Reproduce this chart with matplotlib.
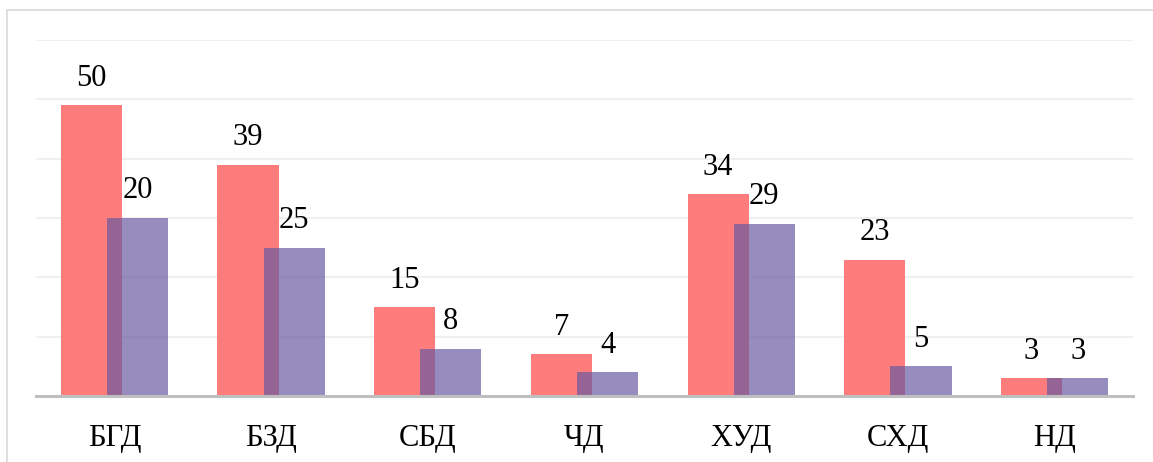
import matplotlib.pyplot as plt
import numpy as np
from matplotlib.patches import Rectangle

categories = ["БГД", "БЗД", "СБД", "ЧД", "ХУД", "СХД", "НД"]
red_values = [49, 39, 15, 7, 34, 23, 3]
red_labels = ["50", "39", "15", "7", "34", "23", "3"]
blue_values = [30, 25, 8, 4, 29, 5, 3]
blue_labels = ["20", "25", "8", "4", "29", "5", "3"]

plt.rcParams['font.family'] = ['Liberation Serif', 'DejaVu Serif']

fig = plt.figure(figsize=(11.53, 4.62), dpi=100)
# outer chart frame (cropped on right and bottom)
fig.patches.append(Rectangle((7 / 1153, -0.1), 1.2, 1 - 10.5 / 462 + 0.1,
                             transform=fig.transFigure, fill=False,
                             edgecolor="#d9d9d9", linewidth=1.2))

ax = fig.add_axes([36 / 1153, 1 - 396 / 462, (1133 - 36) / 1153, (396 - 40) / 462])

x = np.arange(len(categories))
width = 0.39
off = 0.147

ax.bar(x - off, red_values, width, color="#ff7c7c", zorder=2)
ax.bar(x + off, blue_values, width, color=(103 / 255, 88 / 255, 161 / 255), alpha=0.69, zorder=3)

for xi, v, lab in zip(x - off, red_values, red_labels):
    ax.annotate(lab, (xi, v), xytext=(0, 9), textcoords="offset points",
                ha="center", va="bottom", fontsize=22)
for xi, v, lab in zip(x + off, blue_values, blue_labels):
    ax.annotate(lab, (xi, v), xytext=(0, 9), textcoords="offset points",
                ha="center", va="bottom", fontsize=22)

ax.set_xlim(-0.5, len(categories) - 0.5)
ax.set_ylim(0, 60)
ax.set_yticks(np.arange(0, 61, 10))
ax.set_yticklabels([])
ax.tick_params(axis="y", length=0)
ax.grid(axis="y", color="#f0f0f0", linewidth=1.5, zorder=0)
ax.set_axisbelow(True)

ax.set_xticks(x)
ax.set_xticklabels(categories, fontsize=22)
ax.tick_params(axis="x", length=0, pad=20)

for s in ["top", "right", "left"]:
    ax.spines[s].set_visible(False)
ax.spines["bottom"].set_color("#bfbfbf")
ax.spines["bottom"].set_linewidth(2.2)
ax.spines["bottom"].set_zorder(4)

fig.savefig("out.png", dpi=100)
